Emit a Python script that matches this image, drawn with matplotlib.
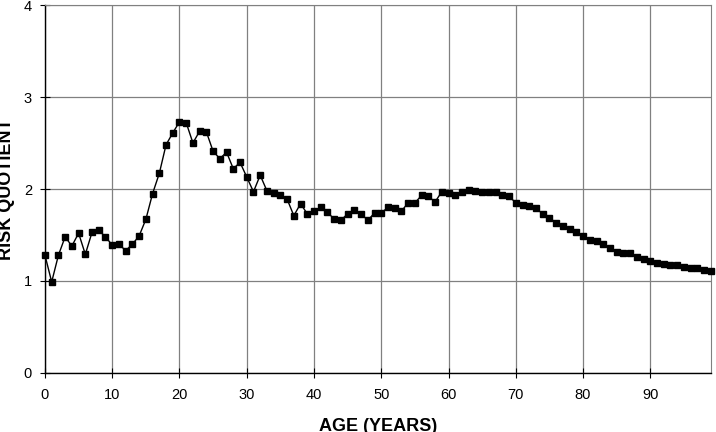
import matplotlib
matplotlib.use("Agg")
import matplotlib.pyplot as plt
import numpy as np

plt.rcParams['font.family'] = ['Liberation Sans', 'DejaVu Sans']

# ages 0..99 and the risk quotient
ages = np.arange(0, 100)
risk = [1.28, 0.99, 1.28, 1.48, 1.38, 1.52, 1.29, 1.53, 1.55, 1.48,
        1.39, 1.40, 1.33, 1.40, 1.49, 1.67, 1.95, 2.17, 2.48, 2.61,
        2.73, 2.72, 2.50, 2.63, 2.62, 2.41, 2.33, 2.40, 2.22, 2.29,
        2.13, 1.97, 2.15, 1.98, 1.96, 1.93, 1.89, 1.71, 1.84, 1.73,
        1.76, 1.80, 1.75, 1.67, 1.66, 1.73, 1.77, 1.73, 1.66, 1.74,
        1.74, 1.80, 1.79, 1.76, 1.85, 1.85, 1.93, 1.92, 1.86, 1.97,
        1.96, 1.93, 1.97, 1.99, 1.98, 1.97, 1.97, 1.97, 1.94, 1.92,
        1.85, 1.83, 1.81, 1.79, 1.73, 1.69, 1.63, 1.60, 1.56, 1.53,
        1.49, 1.45, 1.43, 1.40, 1.36, 1.32, 1.30, 1.30, 1.26, 1.24,
        1.22, 1.20, 1.18, 1.17, 1.17, 1.15, 1.14, 1.14, 1.12, 1.11]
xticks = list(range(0, 100, 10))
yticks = [0, 1, 2, 3, 4]

fig = plt.figure(figsize=(7.16, 4.32), dpi=100)
ax = fig.add_axes([0.0628, 0.1366, 0.930, 0.8518])

ax.plot(ages, risk, color='black', linewidth=1, marker='s', markersize=4.5,
        clip_on=False, zorder=3)

ax.set_xlim(0, 99)
ax.set_ylim(0, 4)
ax.set_xticks(xticks)
ax.set_yticks(yticks)
ax.grid(True, color='#808080', linewidth=0.9)
ax.set_axisbelow(True)

for s in ['top', 'right']:
    ax.spines[s].set_color('#808080')
for s in ['left', 'bottom']:
    ax.spines[s].set_color('black')
    ax.spines[s].set_linewidth(1)

ax.tick_params(axis='both', direction='inout', length=7.5, labelsize=10.5)
ax.tick_params(axis='x', pad=7)
ax.tick_params(axis='y', pad=5.6)

ax.set_xlabel('AGE (YEARS)', fontsize=13, fontweight='bold')
ax.set_ylabel('RISK QUOTIENT', fontsize=13, fontweight='bold')
ax.xaxis.set_label_coords(0.5, -0.122)
ax.yaxis.set_label_coords(-0.045, 0.5)

fig.savefig('out.png', dpi=100)
